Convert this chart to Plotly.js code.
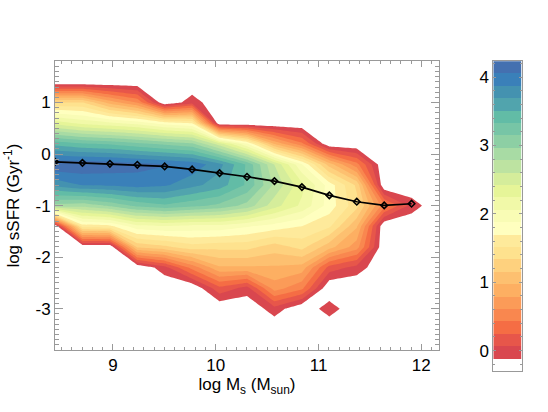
<!DOCTYPE html>
<html>
<head>
<meta charset="utf-8">
<script src="https://cdn.plot.ly/plotly-3.0.1.min.js"></script>
<style>html,body{margin:0;padding:0;background:#fff}</style>
</head>
<body>
<div id="plot" style="width:548px;height:412px"></div>
<script>
// log stellar mass bins (columns of the density grid)
const massBins = [8.436, 8.703, 8.97, 9.237, 9.503, 9.77, 10.037, 10.304, 10.571, 10.838, 11.105, 11.372, 11.639, 11.905, 12.172];
// log sSFR bins (rows of the density grid), bottom to top
const ssfrBins = [-3.8, -3.4, -3.0, -2.6, -2.2, -1.8, -1.4, -1.0, -0.6, -0.2, 0.2, 0.6, 1.0, 1.4, 1.8];

// log10(number of galaxies) per cell, empty cells sit at -0.29
const E = -0.29;
const density = [
  [E, E, E, E, E, E, E, E, E, E, E, E, E, E, E],
  [E, E, E, E, E, E, E, E, E, E, E, E, E, E, E],
  [E, E, E, E, E, E, E, E, 0, E, E, E, E, E, E],
  [E, E, E, E, E, E, 0.2, 0, 0.7, 0.48, E, E, E, E, E],
  [E, E, E, E, 0, 0.5, 0.95, 0.95, 0.95, 0.9, 0.18, 0, E, E, E],
  [E, E, E, 1.2, 1.3, 1.45, 1.4, 1.4, 1.25, 1.4, 1.05, 0.7, E, E, E],
  [E, 1.6, 1.65, 2.0, 2.05, 2.0, 2.0, 1.9, 1.8, 1.7, 1.55, 1.0, E, E, E],
  [2.9, 2.85, 3.0, 3.2, 3.3, 3.2, 3.1, 2.9, 2.5, 2.2, 1.8, 1.4, 0.5, 0, E],
  [3.75, 3.88, 3.9, 3.95, 3.9, 3.75, 3.6, 3.3, 2.75, 2.3, 1.8, 1.3, E, E, E],
  [4.2, 4.2, 4.17, 4.12, 4.07, 4.0, 3.75, 3.3, 2.6, 1.9, 1.07, 0.5, E, E, E],
  [3.45, 3.35, 3.3, 3.2, 3.1, 3.0, 2.5, 1.9, 0.95, 0.48, E, E, E, E, E],
  [2.35, 2.2, 2.1, 2.0, 1.8, 1.7, E, E, E, E, E, E, E, E, E],
  [1.35, 1.35, 0.9, 0.6, E, 0, E, E, E, E, E, E, E, E, E],
  [E, E, E, E, E, E, E, E, E, E, E, E, E, E, E],
  [E, E, E, E, E, E, E, E, E, E, E, E, E, E, E],
];

// the single detached cell, kept apart so the contour doesn't join it to the main body
const isolatedMass = [10.838, 11.105, 11.372];
const isolatedSsfr = [-3.4, -3.0, -2.6];
const isolatedDensity = [
  [E, E, E],
  [E, 0, E],
  [E, E, E],
];

// median relation drawn on top
const medianMass = [8.436, 8.703, 8.97, 9.237, 9.503, 9.77, 10.037, 10.304, 10.571, 10.838, 11.105, 11.372, 11.639, 11.905];
const medianSsfr = [-0.149, -0.169, -0.188, -0.207, -0.24, -0.298, -0.368, -0.44, -0.524, -0.64, -0.8, -0.924, -0.996, -0.963];

// filled contour levels, one colour per band, lowest band is white
const bandColors = [
  "#ffffff", "#d9474f", "#e7564a", "#f56d44", "#f9874f", "#fb9b58", "#fdaf62", "#fdc070", "#fed17e",
  "#fee28e", "#feea9b", "#ffffbf", "#f9fcb5", "#f1f9a8", "#e6f598", "#d5ed9b", "#bde3a1", "#a8dba4",
  "#8dcfa4", "#77c5a6", "#62bca6", "#51a4ad", "#4492b0", "#3a80b9", "#4470b0",
];
const bandCenters = [
  -0.2, -0.019, 0.162, 0.343, 0.524, 0.705, 0.886, 1.067, 1.248, 1.429, 1.61, 1.791, 1.972,
  2.153, 2.334, 2.515, 2.696, 2.877, 3.058, 3.239, 3.42, 3.601, 3.782, 3.963, 4.144,
];
const levelStart = -0.11;
const levelSize = 0.181;

const mainTickVals = [1, 0, -1, -2, -3];
const mainTickText = ["1", "0", "-1", "-2", "-3"];

const scale = bandColors.map((c, i) => [i / (bandColors.length - 1), c]);
const scaleClear = scale.map((s, i) => [s[0], i === 0 ? "rgba(255,255,255,0)" : s[1]]);
const levels = { start: levelStart, end: levelStart + levelSize * 23 + 0.01, size: levelSize, coloring: "fill", showlines: false };
const fontFam = "Liberation Sans, Arial, sans-serif";
const frame = "#999999";

const trace_density = {
  type: "contour",
  x: massBins,
  y: ssfrBins,
  z: density,
  colorscale: scale,
  showscale: false,
  autocontour: false,
  contours: levels,
  line: { width: 0, smoothing: 0 },
  hoverinfo: "skip",
};

const trace_isolated = {
  type: "contour",
  x: isolatedMass,
  y: isolatedSsfr,
  z: isolatedDensity,
  colorscale: scaleClear,
  showscale: false,
  autocontour: false,
  contours: levels,
  line: { width: 0, smoothing: 0 },
  hoverinfo: "skip",
};

const trace_median = {
  type: "scatter",
  mode: "lines+markers",
  x: medianMass,
  y: medianSsfr,
  line: { color: "#000000", width: 1.7 },
  marker: { symbol: "diamond-open", size: 5, color: "#000000", line: { color: "#000000", width: 1.6 } },
  showlegend: false,
};

const trace_bar = {
  type: "heatmap",
  x: [0],
  y: bandCenters,
  z: bandCenters.map((v) => [v]),
  zmin: bandCenters[0],
  zmax: bandCenters[bandCenters.length - 1],
  colorscale: scale,
  showscale: false,
  xaxis: "x2",
  yaxis: "y2",
  hoverinfo: "skip",
};

const layout = {
  width: 548,
  height: 412,
  margin: { l: 0, r: 0, t: 0, b: 0 },
  paper_bgcolor: "#ffffff",
  plot_bgcolor: "#ffffff",
  font: { family: fontFam, size: 17, color: "#000000" },
  showlegend: false,
  xaxis: {
    domain: [55 / 548, 439 / 548],
    range: [8.436, 12.172],
    tickvals: [9, 10, 11, 12],
    ticks: "inside",
    ticklen: 6,
    tickcolor: frame,
    tickwidth: 1,
    minor: { dtick: 0.1, ticks: "inside", ticklen: 3, tickcolor: frame, tickwidth: 1, showgrid: false },
    showline: true,
    linecolor: frame,
    linewidth: 1,
    mirror: "ticks",
    showgrid: false,
    zeroline: false,
    title: { text: "log M<sub>s</sub> (M<sub>sun</sub>)", font: { size: 17 }, standoff: 2 },
    automargin: false,
  },
  yaxis: {
    domain: [1 - 350 / 412, 1 - 61.3 / 412],
    range: [-3.8, 1.8],
    tickvals: mainTickVals,
    ticktext: mainTickText,
    ticks: "inside",
    ticklen: 8,
    tickcolor: frame,
    tickwidth: 1,
    minor: { dtick: 0.1, ticks: "inside", ticklen: 4, tickcolor: frame, tickwidth: 1, showgrid: false },
    showline: true,
    linecolor: frame,
    linewidth: 1,
    mirror: "ticks",
    showgrid: false,
    zeroline: false,
    title: { text: "log sSFR (Gyr<sup>-1</sup>)", font: { size: 17 }, standoff: 11 },
    automargin: false,
  },
  xaxis2: {
    anchor: "y2",
    domain: [493.3 / 548, 521.7 / 548],
    range: [-0.5, 0.5],
    showticklabels: false,
    ticks: "",
    showline: true,
    linecolor: frame,
    linewidth: 1,
    mirror: true,
    showgrid: false,
    zeroline: false,
  },
  yaxis2: {
    anchor: "x2",
    domain: [1 - 370.5 / 412, 1 - 61.3 / 412],
    range: [-0.29, 4.23],
    side: "left",
    tickvals: [0, 1, 2, 3, 4],
    ticks: "inside",
    ticklen: 3,
    tickcolor: frame,
    tickwidth: 1,
    minor: { dtick: 0.2, ticks: "inside", ticklen: 2, tickcolor: frame, tickwidth: 1, showgrid: false },
    showline: true,
    linecolor: frame,
    linewidth: 1,
    mirror: "ticks",
    showgrid: false,
    zeroline: false,
  },
};

Plotly.newPlot("plot", [trace_density, trace_isolated, trace_median, trace_bar], layout, { displayModeBar: false, responsive: false });
</script>
</body>
</html>
